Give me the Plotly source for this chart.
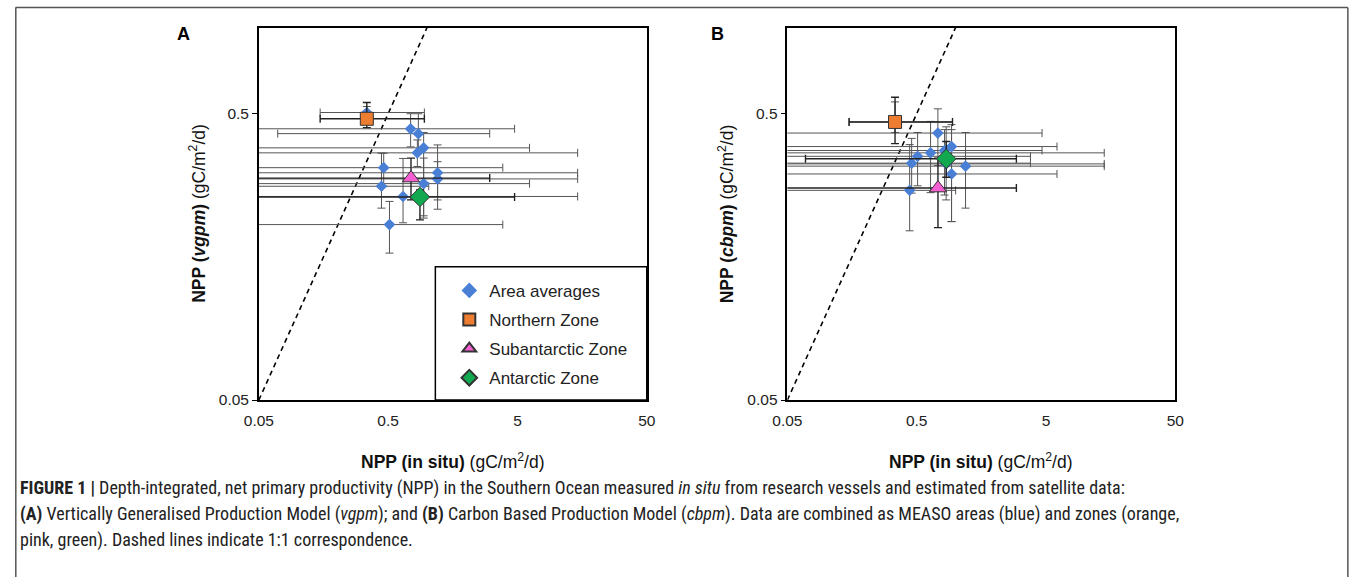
import plotly.graph_objects as go

# ---------------- data ----------------
# Panel A (vgpm) - area averages
a_x    = [0.342, 0.746, 0.856, 0.941, 0.841, 0.462, 1.206, 1.206, 0.941, 0.444, 0.652, 0.512]
a_xlo  = [0.149, 0.02, 0.070, 0.02, 0.02, 0.02, 0.02, 0.02, 0.02, 0.02, 0.02, 0.02]
a_xhi  = [0.953, 4.75, 3.05, 6.2, 14.6, 3.85, 14.6, 14.6, 6.2, 1.03, 14.6, 3.85]
a_y    = [0.505, 0.443, 0.426, 0.380, 0.365, 0.324, 0.311, 0.296, 0.285, 0.279, 0.257, 0.205]
a_ylo  = [0.47, 0.383, 0.37, 0.22, 0.327, 0.279, 0.25, 0.232, 0.216, 0.234, 0.208, 0.163]
a_yhi  = [0.53, 0.50, 0.50, 0.43, 0.405, 0.364, 0.389, 0.340, 0.35, 0.364, 0.349, 0.247]

# Panel A zones: Northern, Subantarctic, Antarctic
az_x   = [0.342, 0.751, 0.881]
az_xlo = [0.149, 0.02, 0.02]
az_xhi = [0.953, 3.05, 4.75]
az_y   = [0.48, 0.298, 0.256]
az_ylo = [0.447, 0.25, 0.213]
az_yhi = [0.547, 0.35, 0.271]

# Panel B (cbpm) - area averages
b_x    = [0.34, 0.729, 0.93, 0.821, 0.64, 0.508, 0.457, 1.193, 0.93, 0.441, 0.845]
b_xlo  = [0.15, 0.02, 0.02, 0.02, 0.02, 0.02, 0.02, 0.02, 0.02, 0.02, 0.02]
b_xhi  = [0.946, 4.66, 6.08, 4.66, 14.1, 3.79, 3.79, 14.1, 6.08, 1.0, 14.1]
b_y    = [0.468, 0.428, 0.384, 0.372, 0.365, 0.355, 0.336, 0.328, 0.308, 0.27, 0.334]
b_ylo  = [0.43, 0.33, 0.21, 0.26, 0.265, 0.28, 0.264, 0.234, 0.21, 0.195, 0.25]
b_yhi  = [0.55, 0.52, 0.458, 0.44, 0.47, 0.43, 0.41, 0.43, 0.44, 0.39, 0.45]

# Panel B zones: Northern, Subantarctic, Antarctic
bz_x   = [0.34, 0.73, 0.846]
bz_xlo = [0.15, 0.02, 0.069]
bz_xhi = [0.946, 2.95, 2.95]
bz_y   = [0.468, 0.275, 0.348]
bz_ylo = [0.393, 0.20, 0.30]
bz_yhi = [0.571, 0.35, 0.40]

zone_names = ["Northern Zone", "Subantarctic Zone", "Antarctic Zone"]
zone_colors = ["#ED7D31", "#F55FD2", "#12A84F"]
zone_symbols = ["square", "triangle-up", "diamond"]
zone_sizes = [13, 15, 15]

tick_vals = [0.05, 0.5, 5, 50]
tick_text = ["0.05", "0.5", "5", "50"]
ytick_vals = [0.05, 0.5]
ytick_text = ["0.05", "0.5"]
one_to_one = [0.05, 1.0]

FONT = "Liberation Sans, Arial, sans-serif"
W, H = 1357, 585
# the capture of the page is slightly scaled/shifted; positions below are given
# in final-picture pixels and converted to paper fractions
S, OX, OY = 0.985, 13.5, 0.5


def fx(p):
    return ((p - OX) / S) / W


def fy(p):
    return 1 - ((p - OY) / S) / H


def errs(v, lo, hi):
    return [h - a for a, h in zip(v, hi)], [a - l for a, l in zip(v, lo)]


fig = go.Figure()


def add_panel(xa, ya, x, xlo, xhi, y, ylo, yhi, zx, zxlo, zxhi, zy, zylo, zyhi, show):
    fig.add_trace(go.Scatter(x=one_to_one, y=one_to_one, mode="lines", xaxis=xa, yaxis=ya,
                             line=dict(color="black", width=1.6, dash="5px,4px"),
                             showlegend=False, hoverinfo="skip"))
    ep, em = errs(x, xlo, xhi)
    yp, ym = errs(y, ylo, yhi)
    fig.add_trace(go.Scatter(
        x=x, y=y, mode="markers", xaxis=xa, yaxis=ya, name="Area averages", showlegend=show,
        legendgroup="g0",
        marker=dict(symbol="diamond", size=9, color="#4A7FD6"),
        error_x=dict(type="data", symmetric=False, array=ep, arrayminus=em,
                     color="#555555", thickness=1, width=4),
        error_y=dict(type="data", symmetric=False, array=yp, arrayminus=ym,
                     color="#555555", thickness=1, width=4)))
    for i in range(3):
        ep, em = errs([zx[i]], [zxlo[i]], [zxhi[i]])
        yp, ym = errs([zy[i]], [zylo[i]], [zyhi[i]])
        fig.add_trace(go.Scatter(
            x=[zx[i]], y=[zy[i]], mode="markers", xaxis=xa, yaxis=ya, name=zone_names[i],
            showlegend=show, legendgroup="g%d" % (i + 1),
            marker=dict(symbol=zone_symbols[i], size=zone_sizes[i], color=zone_colors[i],
                        line=dict(color="#333333", width=1)),
            error_x=dict(type="data", symmetric=False, array=ep, arrayminus=em,
                         color="#222222", thickness=1.4, width=4),
            error_y=dict(type="data", symmetric=False, array=yp, arrayminus=ym,
                         color="#222222", thickness=1.4, width=4)))


add_panel("x", "y", a_x, a_xlo, a_xhi, a_y, a_ylo, a_yhi,
          az_x, az_xlo, az_xhi, az_y, az_ylo, az_yhi, True)
add_panel("x2", "y2", b_x, b_xlo, b_xhi, b_y, b_ylo, b_yhi,
          bz_x, bz_xlo, bz_xhi, bz_y, bz_ylo, bz_yhi, False)

xax = dict(type="log", range=[-1.30103, 1.69897], tickvals=tick_vals, ticktext=tick_text,
           showgrid=False, zeroline=False, showline=True, mirror=True, linecolor="black",
           linewidth=1.5, ticks="", ticklabelstandoff=6,
           tickfont=dict(family=FONT, size=15.5, color="#222"))
yax = dict(type="log", range=[-1.30103, 0], tickvals=ytick_vals, ticktext=ytick_text,
           showgrid=False, zeroline=False, showline=True, mirror=True, linecolor="black",
           linewidth=1.5, ticks="outside", ticklen=5, tickcolor="black",
           tickfont=dict(family=FONT, size=15.5, color="#222"))

ydom = [fy(400), fy(28)]
fig.update_layout(
    width=W, height=H, margin=dict(l=0, r=0, t=0, b=0),
    paper_bgcolor="white", plot_bgcolor="white",
    xaxis=dict(xax, domain=[fx(258), fx(647)], anchor="y"),
    yaxis=dict(yax, domain=ydom, anchor="x"),
    xaxis2=dict(xax, domain=[fx(788), fx(1177)], anchor="y2"),
    yaxis2=dict(yax, domain=ydom, anchor="x2"),
    legend=dict(x=fx(449), y=fy(273), xanchor="left", yanchor="top",
                bgcolor="rgba(0,0,0,0)", borderwidth=0, tracegroupgap=4,
                font=dict(family=FONT, size=17, color="#222"), itemsizing="constant"),
    showlegend=True,
)

# legend frame
fig.add_shape(type="rect", xref="paper", yref="paper",
              x0=fx(435), x1=fx(647), y0=fy(400), y1=fy(267),
              line=dict(color="black", width=1.5), fillcolor="white", layer="above")

# figure border
fig.add_shape(type="line", xref="paper", yref="paper", x0=0.0004, x1=fx(1350),
              y0=fy(8), y1=fy(8), line=dict(color="#555", width=1.5))
fig.add_shape(type="line", xref="paper", yref="paper", x0=0.0006, x1=0.0006,
              y0=fy(8), y1=0, line=dict(color="#555", width=1.5))
fig.add_shape(type="line", xref="paper", yref="paper", x0=fx(1350), x1=fx(1350),
              y0=fy(8), y1=0, line=dict(color="#555", width=1.5))

ann = []
# panel labels
for lab, xp in [("A", 182), ("B", 718)]:
    ann.append(dict(text="<b>%s</b>" % lab, x=fx(xp), y=fy(34), xref="paper", yref="paper",
                    xanchor="center", yanchor="middle",
                    showarrow=False, font=dict(family=FONT, size=18, color="black")))
# axis titles
xt = "<b>NPP (in situ)</b> (gC/m<sup>2</sup>/d)"
for xp in [452, 982]:
    ann.append(dict(text=xt, x=fx(xp), y=fy(461), xref="paper", yref="paper",
                    xanchor="center", yanchor="middle",
                    showarrow=False, font=dict(family=FONT, size=17.5, color="#111")))
for xp, model in [(196, "vgpm"), (726, "cbpm")]:
    ann.append(dict(text="<b>NPP (<i>%s</i>)</b> (gC/m<sup>2</sup>/d)" % model,
                    x=fx(xp), y=fy(214), xref="paper", yref="paper", textangle=-90,
                    xanchor="center", yanchor="middle",
                    showarrow=False, font=dict(family=FONT, size=17.5, color="#111")))
# caption
CAP = "Liberation Sans Narrow, Roboto Condensed, DejaVu Sans Condensed, sans-serif"
cap_lines = [
    "<b>FIGURE 1 |</b> Depth-integrated, net primary productivity (NPP) in the Southern Ocean measured <i>in situ</i> from research vessels and estimated from satellite data:",
    "<b>(A)</b> Vertically Generalised Production Model (<i>vgpm</i>); and <b>(B)</b> Carbon Based Production Model (<i>cbpm</i>). Data are combined as MEASO areas (blue) and zones (orange,",
    "pink, green). Dashed lines indicate 1:1 correspondence.",
]
for i, t in enumerate(cap_lines):
    ann.append(dict(text=t, x=fx(17), y=fy(488 + 26 * i), xref="paper", yref="paper",
                    xanchor="left", yanchor="middle", showarrow=False,
                    font=dict(family=CAP, size=18, color="#222")))
fig.update_layout(annotations=ann)

fig.write_html("out.html", config={"displayModeBar": False},
               post_script="document.body.style.margin='0';document.body.style.padding='0';"
                           "document.documentElement.style.overflow='hidden';")
